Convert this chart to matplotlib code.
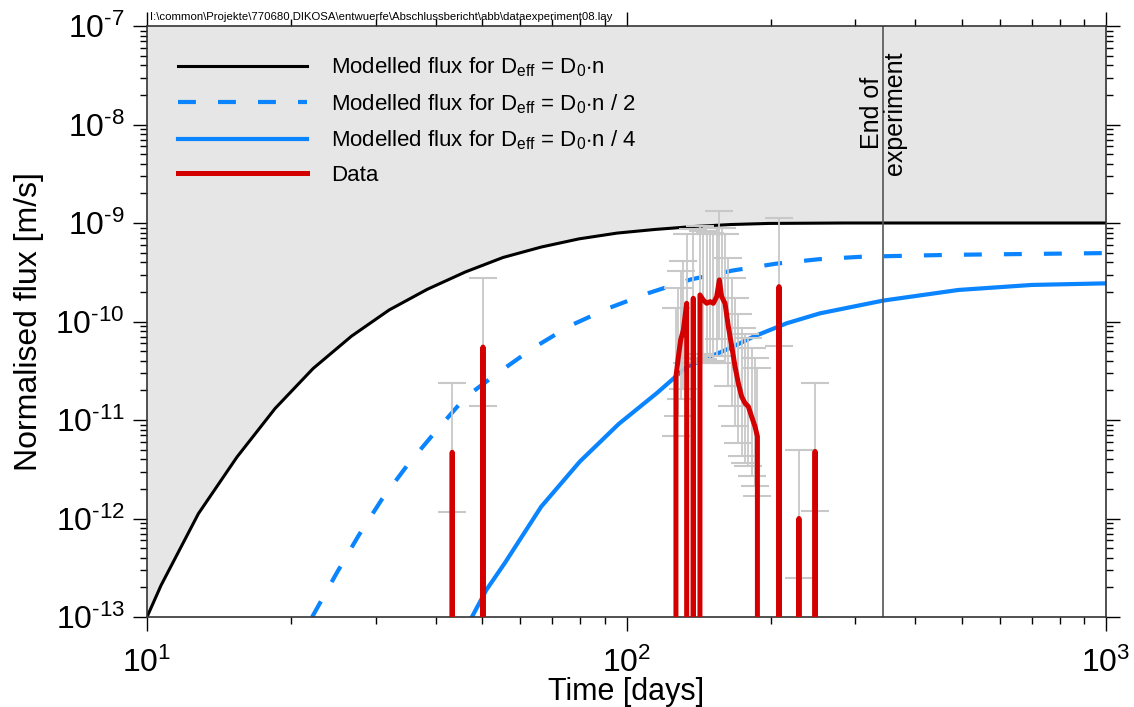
import numpy as np
import matplotlib
matplotlib.use("Agg")
import matplotlib.pyplot as plt
from matplotlib.ticker import LogLocator, FuncFormatter, NullFormatter

plt.rcParams['font.family'] = ['Liberation Sans', 'DejaVu Sans']
plt.rcParams['mathtext.fontset'] = 'custom'
plt.rcParams['mathtext.rm'] = 'Liberation Sans'
plt.rcParams['mathtext.it'] = 'Liberation Sans:italic'
plt.rcParams['mathtext.bf'] = 'Liberation Sans:bold'

# model: D_eff = D0*n
t_model_n = [10, 10.7, 12.8, 15.4, 18.5, 22.2, 26.7, 32.0, 38.4, 46.1, 55.3, 66.4,
             79.6, 95.6, 114.7, 137.6, 165.1, 198.1, 237.8, 285.3, 342.4, 500, 700, 1000]
f_model_n = [1.0e-13, 2.1e-13, 1.12e-12, 4.2e-12, 1.31e-11, 3.33e-11, 7.1e-11, 1.31e-10,
             2.12e-10, 3.18e-10, 4.47e-10, 5.7e-10, 6.9e-10, 7.9e-10, 8.6e-10, 9.2e-10,
             9.65e-10, 9.9e-10, 9.95e-10, 1.0e-9, 1.0e-9, 1.0e-9, 1.0e-9, 1.0e-9]

# model: D_eff = D0*n/2
t_model_n2 = [22.1, 24.9, 27.6, 30.9, 35.0, 39.9, 46.2, 53.8, 63.9, 76.2, 91.9, 111.4,
              136.1, 166.3, 204.8, 252, 310.5, 473, 1000]
f_model_n2 = [1.0e-13, 2.83e-13, 6.67e-13, 1.57e-12, 3.53e-12, 7.55e-12, 1.71e-11, 2.98e-11,
              5.38e-11, 9.04e-11, 1.37e-10, 1.95e-10, 2.67e-10, 3.29e-10, 3.86e-10, 4.29e-10,
              4.55e-10, 4.75e-10, 4.95e-10]

# model: D_eff = D0*n/4
t_model_n4 = [47.6, 51.0, 55.7, 66.4, 79.9, 96.3, 115.9, 133.6, 164.8, 183.8, 215.9, 253.2,
              342.9, 492.3, 699.8, 1000]
f_model_n4 = [1.0e-13, 1.88e-13, 3.51e-13, 1.32e-12, 3.78e-12, 9.1e-12, 1.89e-11, 3.47e-11,
              5.4e-11, 7.0e-11, 9.6e-11, 1.21e-10, 1.63e-10, 2.09e-10, 2.35e-10, 2.44e-10]

# measured data (0 = below detection)
t_data = [42.0, 43.3, 44.6, 49.0, 50.2, 51.4,
          125.5, 126.8, 128.3, 129.7, 131.4, 133.5, 135.2, 137.8, 140.1, 142.3, 144.6,
          147.0, 149.4, 151.7, 154.2, 156.2, 157.9, 160.5, 163.1, 165.8, 168.4, 171.1,
          173.9, 176.7, 179.5, 182.4, 185.4, 187.5, 189.5,
          206.0, 208.0, 210.0, 227.0, 228.9, 231.0, 245.0, 247.3, 249.5]
f_data = [0, 4.7e-12, 0, 0, 5.5e-11, 0,
          0, 2.75e-11, 4.4e-11, 6.5e-11, 8.2e-11, 1.53e-10, 0, 1.72e-10, 0, 1.86e-10, 1.65e-10,
          1.53e-10, 1.59e-10, 1.53e-10, 1.79e-10, 2.64e-10, 1.79e-10, 1.53e-10, 8.85e-11, 5.55e-11,
          3.48e-11, 2.36e-11, 1.72e-11, 1.48e-11, 1.37e-11, 1.08e-11, 8.55e-12, 6.8e-12, 0,
          0, 2.26e-10, 0, 0, 1.0e-12, 0, 0, 4.8e-12, 0]
# relative measurement uncertainty (factor up / down)
err_up = 5.0
err_down = 4.0

t_end = 343  # end of experiment [days]

path_txt = r"I:\common\Projekte\770680 DIKOSA\entwuerfe\Abschlussbericht\abb\dataexperiment08.lay"

blue = '#0a84ff'
red = '#d40000'

fig = plt.figure(figsize=(11.34, 7.07), dpi=100)
ax = fig.add_axes([147/1134, 1-617/707, (1106-147)/1134, (617-26)/707])
ax.set_xscale('log')
ax.set_yscale('log', nonpositive='clip')

ax.fill_between(t_model_n, f_model_n, 1e-7, color='#e6e6e6', lw=0, zorder=0)

l1, = ax.plot(t_model_n, f_model_n, color='black', lw=2.2, zorder=2,
              label=r'Modelled flux for D$_{\rm eff}$ = D$_0$$\cdot$n')
l2, = ax.plot(t_model_n2, f_model_n2, color=blue, lw=3, ls=(0, (4.3, 5.3)), zorder=2,
              label=r'Modelled flux for D$_{\rm eff}$ = D$_0$$\cdot$n / 2')
l3, = ax.plot(t_model_n4, f_model_n4, color=blue, lw=3, zorder=2,
              label=r'Modelled flux for D$_{\rm eff}$ = D$_0$$\cdot$n / 4')

ax.axvline(t_end, color='#555555', lw=1.2, zorder=2)
ax.text(t_end, 1.3e-8, 'End of\nexperiment', rotation=90, ha='center', va='center',
        multialignment='center', fontsize=18, linespacing=0.95)

td = np.array(t_data)
fd = np.array(f_data)
m = fd > 0
ax.errorbar(td[m], fd[m], yerr=[fd[m] - fd[m]/err_down, fd[m]*err_up - fd[m]], fmt='none',
            ecolor='#c8c8c8', elinewidth=1.3, capsize=10, capthick=1.5, zorder=3)
l4, = ax.plot(td, fd, color=red, lw=3.6, zorder=4, label='Data')

ax.set_xlim(10, 1000)
ax.set_ylim(1e-13, 1e-7)

ax.xaxis.set_major_locator(LogLocator(base=10, numticks=10))
ax.xaxis.set_minor_locator(LogLocator(base=10, subs=np.arange(2, 10), numticks=20))
ax.yaxis.set_major_locator(LogLocator(base=10, numticks=10))
ax.yaxis.set_minor_locator(LogLocator(base=10, subs=np.arange(2, 10), numticks=20))
fmt = FuncFormatter(lambda v, p: r'$10^{\text{%d}}$' % int(round(np.log10(v))))
ax.xaxis.set_major_formatter(fmt)
ax.yaxis.set_major_formatter(fmt)
ax.xaxis.set_minor_formatter(NullFormatter())
ax.yaxis.set_minor_formatter(NullFormatter())

ax.tick_params(which='major', direction='out', length=10, width=1, top=True, right=True,
               labelsize=23, colors='black')
ax.tick_params(axis='x', which='major', pad=12)
ax.tick_params(axis='y', which='major', pad=6)
ax.tick_params(which='minor', direction='out', length=5, width=1, top=True, right=True)
for s in ax.spines.values():
    s.set_linewidth(1.2)
    s.set_color('#333333')

ax.set_xlabel('Time [days]', fontsize=22, labelpad=-1.5)
ax.set_ylabel('Normalised flux [m/s]', fontsize=23, labelpad=8)

ax.legend(handles=[l1, l2, l3, l4], loc='upper left', bbox_to_anchor=(0.032, 0.95),
          frameon=False, fontsize=16, handlelength=5.8, handletextpad=1.1,
          borderpad=0, borderaxespad=0, labelspacing=0.58)

fig.text(150/1134, 1-17/707, path_txt, fontsize=8.2, va='center', ha='left')

fig.savefig('out.png', dpi=100)
